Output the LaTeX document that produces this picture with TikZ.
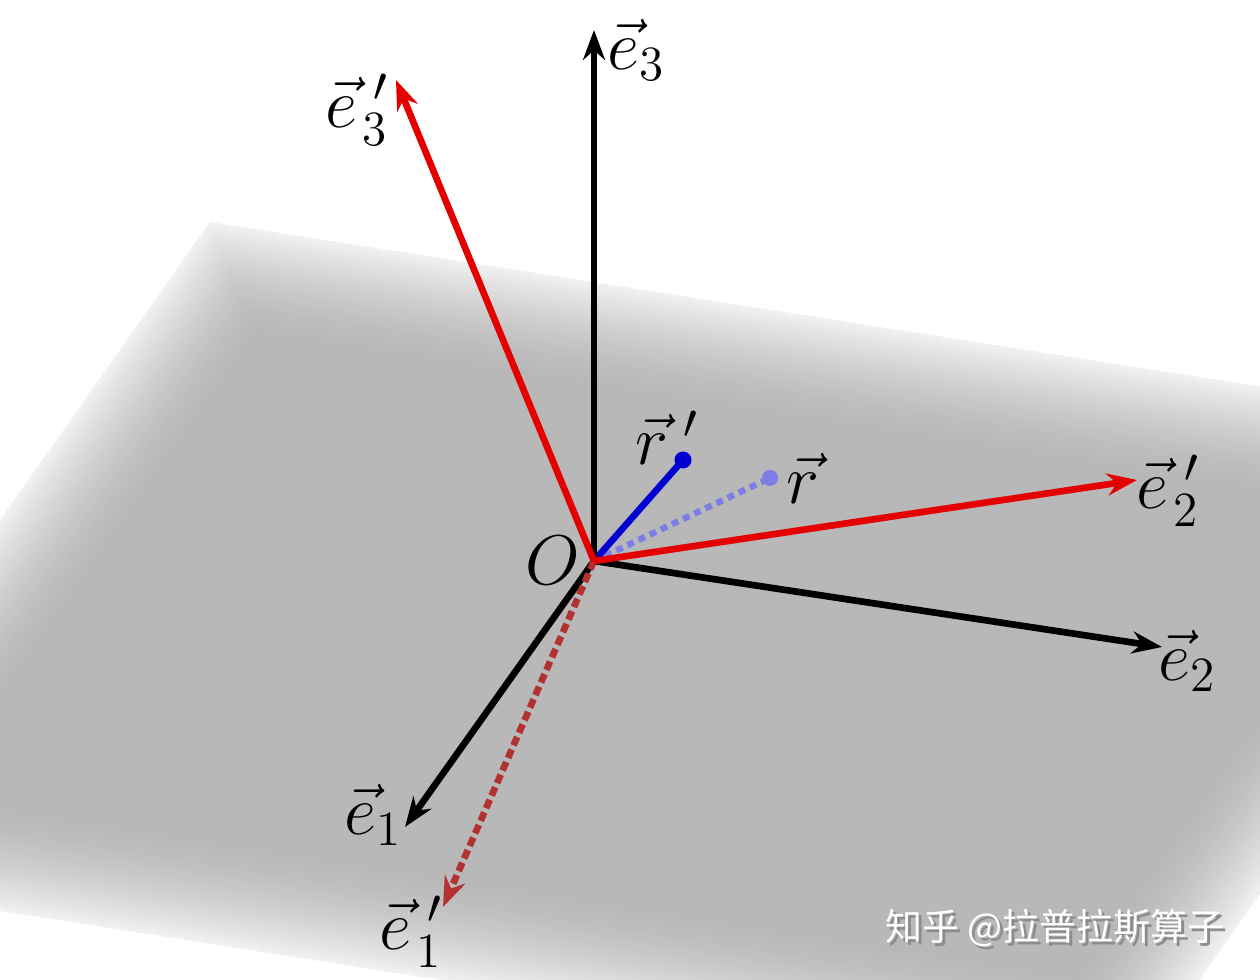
\RequirePackage{fix-cm}
\documentclass[tikz,border=0pt]{standalone}
\usepackage{amsmath}
\usepackage{fontspec}
\newfontfamily\cjkfont{Noto Sans CJK SC}
\usepackage{xcolor}
\usetikzlibrary{arrows.meta,calc}

\definecolor{axred}{RGB}{228,0,0}
\definecolor{dimred}{RGB}{178,50,50}
\definecolor{rblue}{RGB}{0,0,210}
\definecolor{paleblue}{RGB}{125,125,230}

\begin{document}
\begin{tikzpicture}[x=0.01cm,y=-0.01cm,
  axis/.style={line width=1.9pt,-{Stealth[length=0.3cm,width=0.22cm]}},
  lbl/.style={font=\fontsize{20}{24}\selectfont,inner sep=1pt}]
\useasboundingbox (0,0) rectangle (1260,980);

% Plane with soft edges
\coordinate (TL) at (210,222);
\coordinate (U) at (1372,215);
\coordinate (V) at (-458,650);
\begin{scope}
\clip (0,0) rectangle (1260,980);
\foreach \i in {0,...,30} {
  \pgfmathsetmacro{\du}{\i*3.5/1245}
  \pgfmathsetmacro{\dv}{\i*3.5/713}
  \pgfmathsetmacro{\uu}{1-\du}
  \pgfmathsetmacro{\vv}{1-\dv}
  \pgfmathsetmacro{\shade}{6+22*(1-(1-\i/30)^1.6)}
  \fill[black!\shade] ($(TL)+\du*(U)+\dv*(V)$) -- ($(TL)+\uu*(U)+\dv*(V)$)
    -- ($(TL)+\uu*(U)+\vv*(V)$) -- ($(TL)+\du*(U)+\vv*(V)$) -- cycle;
}
\end{scope}

% Origin and vector ends
\coordinate (O) at (594,561);
\coordinate (e1tip) at (405,827);
\coordinate (e2tip) at (1162,647);
\coordinate (e3tip) at (594,30);
\coordinate (f1tip) at (443,907);
\coordinate (f2tip) at (1137,480);
\coordinate (f3tip) at (396,80);
\coordinate (rtip) at (770,478);
\coordinate (rptip) at (683,460);

% Position vectors
\draw[paleblue, line width=1.8pt, dash pattern=on 2pt off 1.5pt] (O) -- (rtip);
\fill[paleblue] (rtip) circle[radius=0.08cm];
\draw[rblue, line width=1.9pt] (O) -- (rptip);
\fill[rblue] (rptip) circle[radius=0.085cm];

% Old basis
\foreach \t in {e1tip,e2tip,e3tip}
  \draw[axis, black] (O) -- (\t);

% New basis
\draw[axis, dimred, dash pattern=on 2.6pt off 1.3pt] (O) -- (f1tip);
\draw[axis, axred] (O) -- (f2tip);
\draw[axis, axred] (O) -- (f3tip);

% Labels
\node[lbl] (lO) at (553,560) {$O$};
\node[lbl] (le1) at (373,815) {$\vec{e}_1$};
\node[lbl] (le2) at (1187,661) {$\vec{e}_2$};
\node[lbl] (le3) at (636,50) {$\vec{e}_3$};
\node[lbl] (lf1) at (411,932) {$\vec{e}\mkern4mu{}'_{\mkern-4mu1}$};
\node[lbl] (lf2) at (1168,491) {$\vec{e}\mkern4mu{}'_{\mkern-4mu2}$};
\node[lbl] (lf3) at (357,110) {$\vec{e}\mkern4mu{}'_{\mkern-4mu3}$};
\node[lbl] (lr) at (803,478) {$\vec{r}$};
\node[lbl] (lrp) at (667,438) {$\vec{r}\mkern4mu{}'$};

% Watermark
\node[font=\cjkfont\fontsize{10.5}{12}\selectfont, text=black!45] (wmshadow) at (1058,931) {知乎 @拉普拉斯算子};
\node[font=\cjkfont\fontsize{10.5}{12}\selectfont, text=white] (wm) at (1055,928) {知乎 @拉普拉斯算子};
\end{tikzpicture}
\end{document}
